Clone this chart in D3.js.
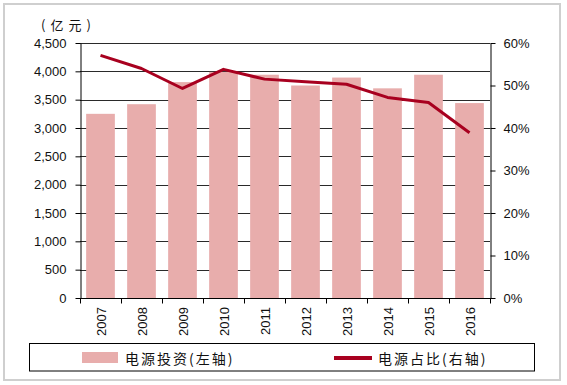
<!DOCTYPE html>
<html>
<head>
<meta charset="utf-8">
<script src="https://cdn.jsdelivr.net/npm/d3@7/dist/d3.min.js"></script>
<style>
  html, body { margin: 0; padding: 0; background: #fff; }
  svg { display: block; }
</style>
</head>
<body>
<svg id="chart" width="567" height="385"></svg>
<script>
const years = ['2007','2008','2009','2010','2011','2012','2013','2014','2015','2016'];
const investment = [3250, 3420, 3810, 3990, 3940, 3750, 3890, 3700, 3940, 3440];
const share = [57.1, 54.0, 49.3, 53.8, 51.5, 50.9, 50.3, 47.2, 46.0, 38.9];
const leftTicks = [0, 500, 1000, 1500, 2000, 2500, 3000, 3500, 4000, 4500];
const rightTicks = [0, 10, 20, 30, 40, 50, 60];
const unitLabel = '(亿元)';
const legendBar = '电源投资(左轴)';
const legendLine = '电源占比(右轴)';

const barColor = '#e8adac';
const lineColor = '#a8001f';
const numFont = '"Liberation Sans", Arial, sans-serif';
const cjkFont = '"Noto Sans CJK SC", sans-serif';

const svg = d3.select('#chart');
const L = 80, R = 490, T = 43, B = 298;

// outer frame
svg.append('rect').attr('x', 4).attr('y', 4).attr('width', 556).attr('height', 376)
  .attr('fill', '#fff').attr('stroke', '#cfcfcf').attr('stroke-width', 2);

const x = d3.scaleBand().domain(years).range([L, R]).padding(0);
const yL = d3.scaleLinear().domain([0, 4500]).range([B, T]);
const yR = d3.scaleLinear().domain([0, 60]).range([B, T]);

// gridlines
svg.append('g').selectAll('line').data(leftTicks.filter(d => d > 0)).join('line')
  .attr('x1', L).attr('x2', R)
  .attr('y1', d => Math.round(yL(d)) + 0.5).attr('y2', d => Math.round(yL(d)) + 0.5)
  .attr('stroke', '#2a2a2a').attr('stroke-width', 1);

// bars
const bw = x.bandwidth() * 0.7;
svg.append('g').selectAll('rect').data(years).join('rect')
  .attr('x', (d) => x(d) + (x.bandwidth() - bw) / 2)
  .attr('width', bw)
  .attr('y', (d, i) => yL(investment[i]))
  .attr('height', (d, i) => B - yL(investment[i]))
  .attr('fill', barColor);

// line
const line = d3.line()
  .x((d, i) => x(years[i]) + x.bandwidth() / 2)
  .y(d => yR(d));
svg.append('path').datum(share).attr('d', line)
  .attr('fill', 'none').attr('stroke', lineColor).attr('stroke-width', 3)
  .attr('stroke-linejoin', 'round');

// left axis
const gL = svg.append('g').attr('transform', `translate(${L + 0.5},0)`)
  .call(d3.axisLeft(yL).tickValues(leftTicks).tickSize(5).tickSizeOuter(0)
    .tickPadding(9).tickFormat(d3.format(',')));
// right axis
const gR = svg.append('g').attr('transform', `translate(${R + 0.5},0)`)
  .call(d3.axisRight(yR).tickValues(rightTicks).tickSize(5).tickSizeOuter(0)
    .tickPadding(8).tickFormat(d => d + '%'));
// bottom axis
const xTickPos = years.map(d => x(d)).concat([R]);
const gB = svg.append('g').attr('transform', `translate(0,${B + 0.5})`);
gB.append('line').attr('x1', L).attr('x2', R + 1).attr('y1', 0).attr('y2', 0)
  .attr('stroke', '#000');
gB.selectAll('line.tk').data(xTickPos).join('line').attr('class', 'tk')
  .attr('x1', d => Math.round(d) + 0.5).attr('x2', d => Math.round(d) + 0.5)
  .attr('y1', 0).attr('y2', 5).attr('stroke', '#000');
gB.selectAll('text').data(years).join('text')
  .attr('transform', d => `translate(${x(d) + x.bandwidth() / 2 + 5},8.5) rotate(-90)`)
  .attr('text-anchor', 'end')
  .attr('font-family', numFont).attr('font-size', 13).attr('fill', '#111')
  .text(d => d);

[gL, gR].forEach(g => {
  g.select('.domain').attr('stroke', '#000');
  g.selectAll('.tick line').attr('stroke', '#000');
  g.selectAll('.tick text').attr('font-family', numFont).attr('font-size', 13).attr('fill', '#111');
});

// unit label
svg.append('text').attr('x', 41).attr('y', 30)
  .attr('font-family', cjkFont).attr('font-size', 13).attr('letter-spacing', 5).attr('fill', '#111')
  .text(unitLabel);

// legend
svg.append('rect').attr('x', 29.5).attr('y', 343.5).attr('width', 505).attr('height', 27.5)
  .attr('fill', '#fff').attr('stroke', '#000').attr('stroke-width', 1);
svg.append('rect').attr('x', 82).attr('y', 352).attr('width', 36).attr('height', 11)
  .attr('fill', barColor);
svg.append('text').attr('x', 125).attr('y', 357.5).attr('dominant-baseline', 'central')
  .attr('font-family', cjkFont).attr('font-size', 14).attr('letter-spacing', 2).attr('fill', '#111')
  .text(legendBar);
svg.append('line').attr('x1', 334).attr('x2', 372).attr('y1', 358).attr('y2', 358)
  .attr('stroke', lineColor).attr('stroke-width', 4);
svg.append('text').attr('x', 378).attr('y', 357.5).attr('dominant-baseline', 'central')
  .attr('font-family', cjkFont).attr('font-size', 14).attr('letter-spacing', 2).attr('fill', '#111')
  .text(legendLine);
</script>
</body>
</html>
